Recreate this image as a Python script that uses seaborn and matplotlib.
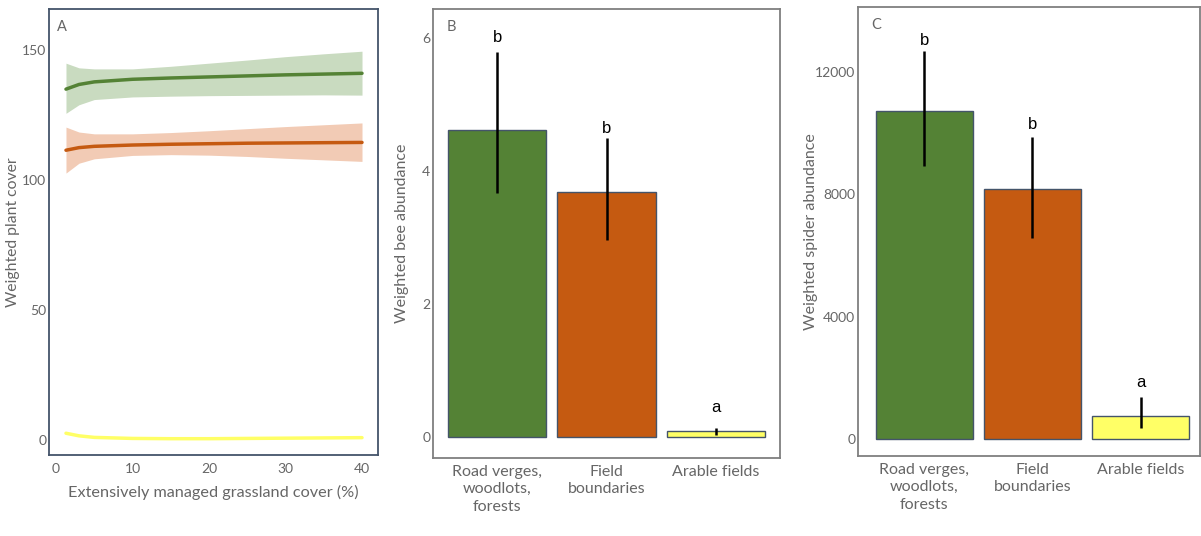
import numpy as np
import pandas as pd
import matplotlib
matplotlib.use('Agg')
import matplotlib.pyplot as plt
import seaborn as sns

# Panel A - fitted plant cover vs grassland cover
grass_x = [1.3, 3, 5, 10, 15, 20, 25, 30, 35, 40]
green_fit = [135.0, 136.8, 137.8, 138.8, 139.3, 139.7, 140.1, 140.5, 140.8, 141.1]
green_lo = [125.7, 129.0, 131.0, 132.0, 132.3, 132.5, 132.6, 132.7, 132.8, 132.7]
green_hi = [145.0, 143.2, 142.8, 142.8, 143.8, 145.0, 146.2, 147.5, 148.6, 149.6]
orange_fit = [111.5, 112.5, 113.0, 113.5, 113.8, 114.0, 114.2, 114.3, 114.4, 114.5]
orange_lo = [102.7, 106.5, 108.2, 109.5, 109.8, 109.6, 109.1, 108.4, 107.8, 107.2]
orange_hi = [120.4, 118.5, 117.8, 117.8, 118.3, 119.0, 119.8, 120.6, 121.3, 122.0]
yellow_fit = [2.6, 1.6, 1.0, 0.6, 0.5, 0.5, 0.6, 0.7, 0.8, 0.9]

# Panels B and C - bar charts
habitats = ['Road verges,\nwoodlots,\nforests', 'Field\nboundaries', 'Arable fields']
bee_mean = [4.62, 3.69, 0.08]
bee_lo = [3.67, 2.96, 0.02]
bee_hi = [5.80, 4.50, 0.13]
bee_letters = ['b', 'b', 'a']
bee_letter_y = [5.90, 4.53, 0.33]
spider_mean = [10720, 8190, 760]
spider_lo = [8930, 6560, 370]
spider_hi = [12700, 9890, 1390]
spider_letters = ['b', 'b', 'a']
spider_letter_y = [12800, 10030, 1600]

colors = ['#548235', '#C55A11', '#FFFF66']
band_colors = ['#C9DBC0', '#F2CBB5']
text_grey = '#666666'

sns.set_theme(style='white')
plt.rcParams['font.family'] = ['Lato', 'DejaVu Sans']

fig = plt.figure(figsize=(12.01, 5.36), dpi=100)
axA = fig.add_axes([0.0408, 0.151, 0.274, 0.832])
axB = fig.add_axes([0.3605, 0.1455, 0.289, 0.8377])
axC = fig.add_axes([0.7144, 0.149, 0.2848, 0.838])

# ---- panel A
axA.fill_between(grass_x, green_lo, green_hi, color=band_colors[0], lw=0)
axA.fill_between(grass_x, orange_lo, orange_hi, color=band_colors[1], lw=0)
lines = pd.DataFrame({'x': grass_x * 3,
                      'y': green_fit + orange_fit + yellow_fit,
                      'grp': ['g'] * 10 + ['o'] * 10 + ['y'] * 10})
sns.lineplot(data=lines, x='x', y='y', hue='grp', palette=colors, lw=2.5,
             legend=False, ax=axA)
axA.set_xlim(-0.92, 42.1)
axA.set_ylim(-5.8, 165.8)
axA.set_xticks([0, 10, 20, 30, 40])
axA.set_yticks([0, 50, 100, 150])
axA.set_xlabel('Extensively managed grassland cover (%)', fontsize=11.7, color=text_grey, labelpad=7)
axA.set_ylabel('Weighted plant cover', fontsize=11.3, color=text_grey)
axA.yaxis.set_label_coords(-0.088, 0.5)
for s in axA.spines.values():
    s.set_visible(True)
    s.set_color('#44546A')
    s.set_linewidth(1.3)
axA.text(0.025, 0.975, 'A', transform=axA.transAxes, ha='left', va='top',
         fontsize=10.5, color=text_grey)


def bar_panel(ax, mean, lo, hi, letters, letter_y, ylim, yticks, ylabel, tag, label_x):
    df = pd.DataFrame({'hab': habitats, 'val': mean})
    sns.barplot(data=df, x='hab', y='val', hue='hab', palette=colors, width=0.9,
                saturation=1, edgecolor='#44546A', linewidth=1.0, errorbar=None,
                legend=False, ax=ax)
    ax.vlines(range(len(mean)), lo, hi, color='black', lw=1.8)
    for i, (t, y) in enumerate(zip(letters, letter_y)):
        ax.text(i, y, t, ha='center', va='bottom', fontsize=12, color='black',
                family=['Liberation Sans', 'DejaVu Sans'])
    ax.set_ylim(*ylim)
    ax.set_yticks(yticks)
    ax.set_xlabel('')
    ax.set_ylabel(ylabel, fontsize=11.5, color=text_grey)
    ax.yaxis.set_label_coords(label_x, 0.5)
    for s in ax.spines.values():
        s.set_visible(True)
        s.set_color('#7F7F7F')
        s.set_linewidth(1.3)
    ax.text(0.04, 0.975, tag, transform=ax.transAxes, ha='left', va='top',
            fontsize=10.5, color=text_grey)
    ax.tick_params(axis='x', labelsize=11.5, labelcolor=text_grey, pad=5)
    for lab in ax.get_xticklabels():
        lab.set_linespacing(1.3)


bar_panel(axB, bee_mean, bee_lo, bee_hi, bee_letters, bee_letter_y,
          (-0.32, 6.44), [0, 2, 4, 6], 'Weighted bee abundance', 'B', -0.069)
axB.set_xlim(-0.587, 2.587)
bar_panel(axC, spider_mean, spider_lo, spider_hi, spider_letters, spider_letter_y,
          (-557, 14131), [0, 4000, 8000, 12000], 'Weighted spider abundance', 'C', -0.117)
axC.set_xlim(-0.613, 2.55)

for ax in (axA, axB, axC):
    ax.tick_params(length=0, labelcolor=text_grey)
    ax.tick_params(axis='y', labelsize=10, pad=2)
axA.tick_params(axis='x', labelsize=10, pad=6)

fig.savefig('out.png', dpi=100, facecolor='white')
